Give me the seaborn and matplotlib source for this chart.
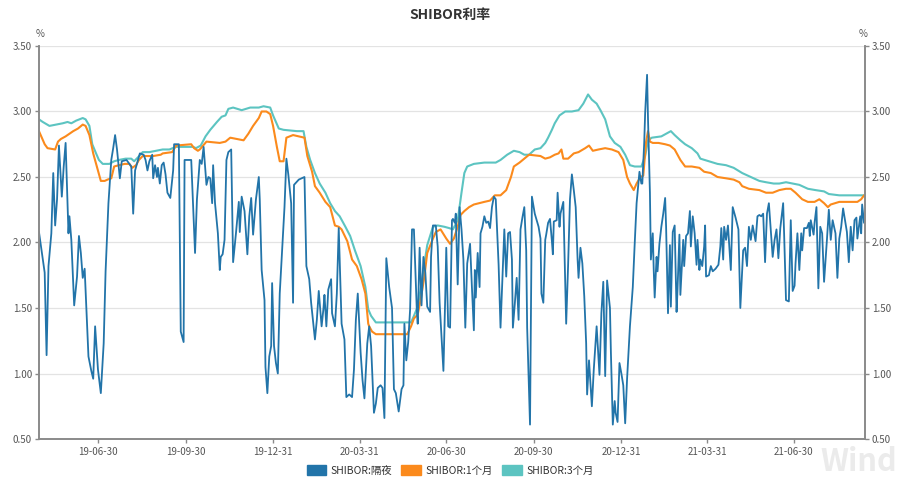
import matplotlib
matplotlib.use("Agg")
import matplotlib.pyplot as plt
import matplotlib.dates as mdates
from matplotlib.patches import Patch
import pandas as pd
import seaborn as sns

# 起始日期, 数据点为 (距起始日的天数, 利率%)
start = pd.Timestamp("2019-04-29")

overnight = [
    (0, 2.08), (4, 1.87), (6, 1.77), (8, 1.14), (10, 1.82), (13, 2.07), (15, 2.53), (17, 2.13), (19, 2.33), (21, 2.74),
    (24, 2.35), (26, 2.58), (28, 2.76), (31, 2.07), (32, 2.20), (34, 2.02), (37, 1.52), (40, 1.74), (42, 2.05), (44, 1.92),
    (46, 1.73), (48, 1.80), (50, 1.46), (52, 1.13), (55, 1.02), (57, 0.96), (59, 1.36), (62, 1.03), (65, 0.85), (68, 1.23),
    (70, 1.78), (73, 2.30), (76, 2.63), (78, 2.72), (80, 2.82), (82, 2.71), (85, 2.49), (87, 2.62), (92, 2.63), (97, 2.58),
    (99, 2.22), (101, 2.55), (106, 2.68), (110, 2.67), (112, 2.63), (114, 2.55), (116, 2.62), (119, 2.67), (120, 2.49), (122, 2.59),
    (124, 2.50), (125, 2.57), (127, 2.45), (129, 2.59), (131, 2.61), (133, 2.52), (135, 2.38), (138, 2.34), (141, 2.55), (142, 2.75),
    (147, 2.75), (149, 1.32), (152, 1.24), (153, 2.63), (160, 2.63), (164, 1.92), (166, 2.33), (169, 2.63), (171, 2.60), (173, 2.73),
    (176, 2.44), (178, 2.50), (180, 2.49), (182, 2.30), (183, 2.59), (185, 2.30), (188, 2.07), (190, 1.79), (191, 1.89), (193, 1.91),
    (195, 2.02), (197, 2.63), (199, 2.69), (202, 2.71), (204, 1.85), (207, 2.07), (210, 2.31), (211, 2.08), (213, 2.35), (216, 2.24),
    (219, 1.91), (221, 2.20), (223, 2.34), (225, 2.06), (228, 2.33), (231, 2.50), (232, 2.33), (234, 1.79), (237, 1.56), (238, 1.05),
    (240, 0.85), (242, 1.13), (244, 1.21), (245, 1.69), (247, 1.21), (249, 1.08), (251, 1.00), (253, 1.61), (255, 1.87), (258, 2.27),
    (260, 2.64), (262, 2.52), (265, 2.30), (267, 1.54), (268, 2.44), (273, 2.48), (279, 2.50), (281, 1.82), (284, 1.72), (286, 1.54),
    (290, 1.26), (292, 1.41), (294, 1.63), (297, 1.36), (299, 1.50), (300, 1.60), (302, 1.36), (304, 1.64), (307, 1.72), (308, 1.46),
    (311, 1.36), (313, 1.61), (315, 2.11), (318, 1.38), (321, 1.26), (323, 0.82), (326, 0.84), (329, 0.82), (331, 1.03), (333, 1.41),
    (335, 1.61), (338, 1.16), (340, 0.95), (342, 0.81), (345, 1.23), (347, 1.36), (349, 1.21), (352, 0.70), (354, 0.77), (356, 0.89),
    (359, 0.91), (361, 0.89), (363, 0.66), (365, 1.88), (368, 1.66), (371, 1.50), (373, 0.88), (375, 0.85), (378, 0.71), (381, 0.88),
    (383, 0.91), (384, 1.38), (386, 1.10), (388, 1.24), (390, 1.49), (392, 2.10), (394, 2.10), (397, 1.49), (398, 1.38), (400, 1.96),
    (402, 1.52), (404, 1.89), (406, 1.77), (408, 1.51), (411, 1.47), (412, 1.89), (414, 2.13), (417, 2.13), (419, 1.97), (421, 1.54),
    (423, 1.28), (425, 1.02), (427, 1.61), (428, 1.96), (430, 1.36), (432, 1.35), (434, 2.17), (435, 2.18), (437, 2.15), (438, 2.22),
    (440, 1.68), (442, 2.27), (444, 2.10), (446, 1.87), (448, 1.35), (450, 1.84), (451, 1.89), (453, 1.99), (455, 1.65), (457, 1.33),
    (458, 1.79), (459, 1.58), (461, 1.92), (463, 1.66), (464, 2.07), (466, 2.12), (468, 2.20), (470, 2.15), (472, 2.16), (474, 2.11),
    (476, 2.27), (478, 2.35), (480, 2.33), (483, 1.83), (485, 1.35), (487, 1.72), (489, 2.10), (491, 1.74), (493, 2.07), (495, 2.08),
    (497, 1.87), (498, 1.35), (500, 1.53), (502, 1.73), (504, 1.41), (506, 2.10), (508, 2.19), (510, 2.27), (512, 1.94), (513, 1.35),
    (516, 0.61), (518, 2.35), (521, 2.22), (525, 2.12), (527, 2.03), (528, 1.61), (530, 1.54), (532, 2.02), (533, 2.06), (535, 2.15),
    (537, 2.18), (539, 2.01), (540, 1.91), (541, 2.16), (544, 2.17), (545, 2.38), (547, 2.12), (548, 2.22), (551, 2.31), (552, 2.00),
    (554, 1.38), (556, 1.82), (558, 2.33), (560, 2.52), (562, 2.40), (564, 2.27), (566, 1.87), (567, 1.73), (569, 1.96), (571, 1.84),
    (573, 1.59), (575, 1.23), (576, 0.84), (578, 1.10), (581, 0.75), (583, 1.03), (586, 1.36), (589, 0.99), (591, 1.46), (593, 1.70),
    (595, 0.98), (597, 1.71), (600, 1.50), (601, 1.16), (603, 0.61), (605, 0.79), (606, 0.70), (608, 0.63), (610, 1.08), (612, 1.00),
    (614, 0.91), (616, 0.62), (618, 0.96), (621, 1.36), (624, 1.66), (626, 1.99), (628, 2.30), (631, 2.54), (633, 2.45), (634, 2.45),
    (636, 2.76), (637, 2.99), (639, 3.28), (640, 2.94), (642, 2.38), (643, 1.87), (645, 2.07), (646, 1.79), (647, 1.58), (649, 1.89),
    (650, 1.78), (652, 1.99), (654, 2.12), (656, 2.22), (658, 2.34), (659, 2.12), (661, 1.46), (663, 1.98), (664, 1.51), (666, 2.08),
    (668, 2.13), (670, 1.47), (671, 1.64), (673, 2.06), (674, 1.60), (675, 1.74), (677, 2.02), (678, 1.82), (680, 2.05), (682, 2.07),
    (684, 2.24), (685, 1.97), (687, 2.20), (689, 2.07), (691, 1.83), (692, 2.02), (694, 1.79), (695, 1.87), (697, 1.82), (699, 1.97),
    (700, 2.13), (701, 1.74), (704, 1.75), (706, 1.82), (708, 1.78), (711, 1.80), (714, 1.83), (716, 1.97), (717, 2.11), (719, 1.87),
    (720, 2.12), (722, 2.02), (724, 2.13), (726, 1.91), (727, 1.79), (729, 2.27), (732, 2.19), (735, 2.10), (737, 1.50), (740, 1.94),
    (742, 1.96), (744, 1.82), (746, 2.12), (748, 2.02), (750, 2.13), (753, 2.01), (755, 2.20), (757, 2.21), (759, 2.20), (761, 2.22),
    (763, 1.85), (765, 2.22), (767, 2.30), (769, 2.10), (771, 1.89), (773, 2.02), (775, 2.10), (777, 1.88), (779, 2.11), (782, 2.30),
    (783, 2.07), (785, 1.56), (788, 1.55), (790, 2.17), (792, 1.63), (794, 1.67), (795, 1.84), (797, 2.07), (799, 1.79), (801, 2.07),
    (802, 1.94), (804, 2.11), (807, 2.11), (809, 2.15), (810, 2.05), (811, 2.17), (814, 2.06), (815, 2.15), (817, 2.27), (819, 1.65),
    (821, 2.12), (823, 2.07), (825, 1.70), (828, 2.02), (830, 2.25), (832, 2.02), (834, 2.17), (837, 2.07), (839, 1.73), (841, 2.03),
    (843, 2.12), (845, 2.26), (847, 2.17), (849, 2.08), (851, 1.85), (853, 2.12), (855, 1.94), (857, 2.17), (859, 2.19), (860, 2.03),
    (863, 2.20), (864, 2.07), (865, 2.29), (867, 2.15),
]

one_month = [
    (0, 2.85), (6, 2.75), (9, 2.72), (17, 2.71), (20, 2.77), (23, 2.79), (28, 2.81), (32, 2.83), (36, 2.85), (41, 2.87),
    (46, 2.90), (49, 2.89), (53, 2.82), (57, 2.68), (62, 2.55), (65, 2.47), (69, 2.47), (72, 2.48), (76, 2.49), (79, 2.58),
    (84, 2.59), (90, 2.60), (95, 2.60), (98, 2.57), (102, 2.59), (105, 2.63), (109, 2.66), (120, 2.66), (128, 2.67), (130, 2.68),
    (140, 2.69), (144, 2.74), (160, 2.75), (163, 2.72), (167, 2.70), (169, 2.71), (176, 2.77), (190, 2.76), (196, 2.77), (201, 2.80),
    (208, 2.79), (215, 2.78), (220, 2.83), (225, 2.89), (231, 2.95), (234, 3.00), (239, 3.00), (243, 2.98), (246, 2.89), (250, 2.73),
    (253, 2.62), (257, 2.62), (260, 2.80), (267, 2.82), (279, 2.80), (282, 2.66), (287, 2.54), (290, 2.43), (295, 2.38), (301, 2.31),
    (306, 2.27), (311, 2.13), (315, 2.12), (318, 2.10), (324, 2.01), (329, 1.87), (334, 1.82), (339, 1.72), (343, 1.61), (346, 1.38),
    (347, 1.36), (350, 1.32), (354, 1.30), (373, 1.30), (387, 1.30), (391, 1.36), (394, 1.42), (398, 1.45), (401, 1.56), (405, 1.74),
    (408, 1.92), (414, 2.03), (417, 2.08), (422, 2.10), (428, 2.03), (432, 1.99), (436, 2.03), (440, 2.12), (443, 2.21), (447, 2.24),
    (452, 2.27), (457, 2.29), (468, 2.31), (474, 2.32), (479, 2.36), (485, 2.36), (491, 2.40), (496, 2.50), (499, 2.58), (505, 2.61),
    (510, 2.64), (515, 2.67), (527, 2.66), (532, 2.64), (537, 2.65), (542, 2.67), (546, 2.68), (549, 2.71), (551, 2.64), (556, 2.64),
    (562, 2.68), (567, 2.69), (574, 2.72), (578, 2.74), (582, 2.70), (588, 2.71), (595, 2.72), (602, 2.71), (609, 2.69), (614, 2.63),
    (618, 2.50), (621, 2.45), (625, 2.40), (628, 2.45), (632, 2.50), (635, 2.51), (638, 2.77), (640, 2.85), (642, 2.77), (645, 2.76),
    (651, 2.76), (658, 2.75), (663, 2.74), (668, 2.71), (674, 2.63), (679, 2.58), (686, 2.58), (694, 2.57), (699, 2.54), (706, 2.53),
    (713, 2.50), (722, 2.49), (730, 2.48), (736, 2.46), (739, 2.43), (746, 2.41), (757, 2.40), (764, 2.38), (771, 2.38), (778, 2.40),
    (785, 2.41), (790, 2.41), (795, 2.38), (802, 2.33), (808, 2.31), (815, 2.31), (820, 2.33), (825, 2.30), (829, 2.27), (832, 2.29),
    (841, 2.31), (848, 2.31), (855, 2.31), (860, 2.31), (864, 2.33), (867, 2.36),
]

three_month = [
    (0, 2.94), (4, 2.92), (11, 2.89), (18, 2.90), (25, 2.91), (30, 2.92), (34, 2.91), (39, 2.93), (46, 2.95), (49, 2.94),
    (53, 2.89), (56, 2.75), (60, 2.68), (63, 2.63), (67, 2.60), (74, 2.60), (79, 2.62), (84, 2.63), (91, 2.64), (97, 2.64),
    (100, 2.62), (104, 2.65), (109, 2.69), (116, 2.69), (123, 2.70), (130, 2.71), (137, 2.71), (144, 2.73), (162, 2.73), (165, 2.72),
    (170, 2.74), (175, 2.81), (180, 2.86), (187, 2.92), (192, 2.96), (196, 2.97), (199, 3.02), (204, 3.03), (213, 3.01), (222, 3.03),
    (231, 3.03), (236, 3.04), (243, 3.03), (246, 2.97), (252, 2.87), (257, 2.86), (271, 2.85), (278, 2.85), (281, 2.73), (285, 2.63),
    (290, 2.53), (295, 2.45), (301, 2.38), (306, 2.30), (311, 2.24), (316, 2.20), (322, 2.12), (327, 2.05), (332, 1.94), (338, 1.82),
    (343, 1.66), (346, 1.49), (349, 1.44), (354, 1.39), (391, 1.39), (394, 1.44), (398, 1.51), (401, 1.64), (405, 1.84), (408, 1.98),
    (414, 2.12), (419, 2.13), (426, 2.12), (431, 2.11), (435, 2.10), (440, 2.17), (444, 2.38), (447, 2.53), (450, 2.58), (457, 2.60),
    (468, 2.61), (480, 2.61), (485, 2.63), (492, 2.67), (499, 2.70), (505, 2.69), (510, 2.67), (515, 2.67), (521, 2.71), (527, 2.72),
    (532, 2.76), (535, 2.80), (539, 2.86), (542, 2.91), (547, 2.97), (553, 3.00), (560, 3.00), (567, 3.01), (572, 3.06), (577, 3.13),
    (581, 3.09), (586, 3.06), (590, 3.01), (595, 2.94), (600, 2.81), (605, 2.76), (611, 2.73), (616, 2.67), (621, 2.59), (626, 2.58),
    (633, 2.58), (637, 2.66), (640, 2.78), (644, 2.80), (654, 2.81), (664, 2.85), (668, 2.82), (674, 2.78), (679, 2.75), (686, 2.72),
    (692, 2.68), (695, 2.64), (704, 2.62), (713, 2.60), (722, 2.59), (730, 2.57), (739, 2.53), (748, 2.50), (757, 2.47), (764, 2.46),
    (772, 2.45), (778, 2.45), (785, 2.46), (792, 2.45), (799, 2.44), (808, 2.41), (816, 2.40), (825, 2.39), (830, 2.37), (841, 2.36),
    (855, 2.36), (867, 2.36),
]

names = ["SHIBOR:隔夜", "SHIBOR:1个月", "SHIBOR:3个月"]
colors = ["#2274a9", "#fb8a1c", "#5cc4c1"]
widths = [1.3, 1.5, 1.5]
tick_dates = ["2019-06-30", "2019-09-30", "2019-12-31", "2020-03-31", "2020-06-30",
              "2020-09-30", "2020-12-31", "2021-03-31", "2021-06-30"]
y_ticks = [0.5, 1.0, 1.5, 2.0, 2.5, 3.0, 3.5]

frames = []
for name, pts in zip(names, [overnight, one_month, three_month]):
    df = pd.DataFrame(pts, columns=["day", "rate"])
    df["date"] = start + pd.to_timedelta(df["day"], unit="D")
    df["series"] = name
    frames.append(df)
data = pd.concat(frames, ignore_index=True)

sns.set_style("white")
plt.rcParams["font.family"] = ["Noto Sans CJK SC", "DejaVu Sans"]

fig = plt.figure(figsize=(9, 4.79), dpi=100)

# 水印放在最底层, 右下角
fig.text(0.997, 0.002, "Wind", ha="right", va="bottom", fontsize=22,
         fontweight="bold", color="#ebebeb", zorder=0)

ax = fig.add_axes([0.0433, 0.0835, 0.9178, 0.8205])
ax.patch.set_alpha(0)

# 3个月、1个月在下, 隔夜在上
for i in [2, 1, 0]:
    sns.lineplot(data=data[data["series"] == names[i]], x="date", y="rate",
                 color=colors[i], linewidth=widths[i], ax=ax, legend=False)

ax.set_xlim(start, start + pd.Timedelta(days=868))
ax.set_ylim(0.5, 3.5)
ax.set_xlabel("")
ax.set_ylabel("")
ax.set_yticks(y_ticks)
ax.set_yticklabels([f"{v:.2f}" for v in y_ticks])
ax.set_xticks(pd.to_datetime(tick_dates))
ax.xaxis.set_major_formatter(mdates.DateFormatter("%y-%m-%d"))
ax.yaxis.grid(True, color="#e3e3e3", linewidth=0.9)
ax.xaxis.grid(False)

ax2 = ax.twinx()
ax2.set_ylim(0.5, 3.5)
ax2.set_yticks(y_ticks)
ax2.set_yticklabels([f"{v:.2f}" for v in y_ticks])

for a in [ax, ax2]:
    for s in a.spines.values():
        s.set_color("#8a8a8a")
        s.set_linewidth(1.2)
    a.spines["top"].set_visible(False)
    a.tick_params(axis="both", colors="#8a8a8a", labelcolor="#555555",
                  labelsize=7, length=3, width=1, pad=2)
ax.tick_params(axis="y", left=True)
ax.tick_params(axis="x", bottom=True, pad=3)
ax2.tick_params(axis="y", right=True)

fig.text(0.5, 0.968, "SHIBOR利率", ha="center", va="center",
         fontsize=10, fontweight="bold", color="#333333")
fig.text(0.044, 0.930, "%", ha="center", va="center", fontsize=7, color="#555555")
fig.text(0.959, 0.930, "%", ha="center", va="center", fontsize=7, color="#555555")

handles = [Patch(facecolor=c, edgecolor=c) for c in colors]
fig.legend(handles, names, loc="center", bbox_to_anchor=(0.5, 0.018), ncol=3,
           frameon=False, fontsize=7.5, handlelength=1.9, handleheight=1.0,
           handletextpad=0.4, columnspacing=0.9, labelcolor="#333333")

fig.savefig("out.png", dpi=100)
